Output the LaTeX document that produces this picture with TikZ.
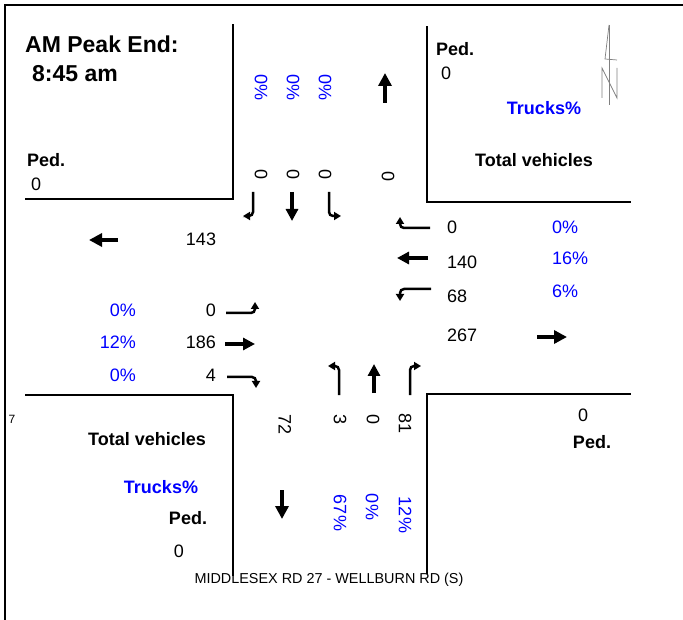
\documentclass[tikz,border=0pt]{standalone}
\usepackage{fontspec}
\setmainfont{Liberation Sans}
\usetikzlibrary{arrows.meta}

\begin{document}
\begin{tikzpicture}[
    x=1pt, y=-1pt,
    curb/.style={line width=2.8pt, line cap=rect},
    frame/.style={line width=2pt},
    num/.style={font=\fontsize{18}{20}\selectfont, inner sep=0pt},
    pct/.style={num, text=blue},
    bold/.style={font=\fontsize{18}{20}\selectfont\bfseries, inner sep=0pt},
    head/.style={font=\fontsize{23}{25}\selectfont\bfseries, inner sep=0pt, anchor=west},
    mov/.style={line width=3.2pt, -{Triangle[length=12pt,width=12pt]}},
    exitarr/.style={line width=3.8pt, -{Triangle[length=13pt,width=13pt]}},
    turn/.style={line width=2.5pt, rounded corners=4pt, -{Triangle[length=7pt,width=8pt]}},
    compass/.style={gray, line width=0.7pt}
  ]
  \useasboundingbox (0,0) rectangle (683,620);
  \draw[frame] (683,5) -- (5,5) -- (5,620);

  \draw[curb] (233,25) -- (233,199) -- (26,199);
  \draw[curb] (427,27) -- (427,202) -- (630,202);
  \draw[curb] (26,395) -- (233,395) -- (233,575);
  \draw[curb] (630,394) -- (427,394) -- (427,573);

  \node[head] (title) at (25,44) {AM Peak End:};
  \node[head] (time) at (32,74) {8:45 am};

  \draw[compass] (609,25) -- (609,105);
  \draw[compass] (609,25) -- (605,59) -- (617,60);
  \draw[compass] (602,98) -- (602,68) -- (617,98) -- (617,68);

  % north leg
  \node[bold, anchor=west] (pedNW) at (27,160) {Ped.};
  \node[num, anchor=west] (pedNWv) at (31,184) {0};
  \node[pct, rotate=-90] (tkNR) at (261,88) {0\%};
  \node[pct, rotate=-90] (tkNT) at (293,88) {0\%};
  \node[pct, rotate=-90] (tkNL) at (325,88) {0\%};
  \node[num, rotate=-90] (vNR) at (261,175) {0};
  \node[num, rotate=-90] (vNT) at (293,175) {0};
  \node[num, rotate=-90] (vNL) at (325,175) {0};
  \node[num, rotate=-90] (vNX) at (388,177) {0};
  \draw[turn] (253,192) -- (253,216) -- (243,216);
  \draw[mov] (292,192) -- (292,221);
  \draw[turn] (329,192) -- (329,216) -- (341,216);
  \draw[exitarr] (385,103) -- (385,73);

  \node[bold, anchor=west] (pedNE) at (436,49) {Ped.};
  \node[num, anchor=west] (pedNEv) at (441,73) {0};
  \node[bold, text=blue] (trkNE) at (544,108) {Trucks\%};
  \node[bold] (totNE) at (534,160) {Total vehicles};

  % west leg
  \draw[exitarr] (118,240) -- (89,240);
  \node[num] (vWX) at (201,239) {143};
  \node[num, anchor=east] (vWL) at (216,310) {0};
  \node[num, anchor=east] (vWT) at (216,342) {186};
  \node[num, anchor=east] (vWR) at (216,375) {4};
  \node[pct, anchor=east] (tkWL) at (136,310) {0\%};
  \node[pct, anchor=east] (tkWT) at (136,342) {12\%};
  \node[pct, anchor=east] (tkWR) at (136,375) {0\%};
  \draw[turn] (226,313) -- (255,313) -- (255,302);
  \draw[mov] (225,344) -- (255,344);
  \draw[turn] (227,377) -- (256,377) -- (256,388);

  % east leg
  \node[num, anchor=west] (vER) at (447,227) {0};
  \node[num, anchor=west] (vET) at (447,262) {140};
  \node[num, anchor=west] (vEL) at (447,296) {68};
  \node[num, anchor=west] (vEX) at (447,335) {267};
  \node[pct, anchor=west] (tkER) at (552,227) {0\%};
  \node[pct, anchor=west] (tkET) at (552,258) {16\%};
  \node[pct, anchor=west] (tkEL) at (552,291) {6\%};
  \draw[turn] (430,228) -- (400,228) -- (400,217);
  \draw[mov] (428,258) -- (397,258);
  \draw[turn] (431,289) -- (400,289) -- (400,301);
  \draw[exitarr] (537,337) -- (567,337);

  % south leg
  \draw[turn] (339,395) -- (339,366) -- (328,366);
  \draw[mov] (374,393) -- (374,364);
  \draw[turn] (410,395) -- (410,366) -- (421,366);
  \node[num, rotate=-90] (vSX) at (285,425) {72};
  \node[num, rotate=-90] (vSL) at (340,420) {3};
  \node[num, rotate=-90] (vST) at (373,420) {0};
  \node[num, rotate=-90] (vSR) at (405,424) {81};
  \node[pct, rotate=-90] (tkSL) at (340,513) {67\%};
  \node[pct, rotate=-90] (tkST) at (372,507) {0\%};
  \node[pct, rotate=-90] (tkSR) at (405,515) {12\%};
  \draw[exitarr] (282,490) -- (282,519);

  \node[font=\fontsize{12}{14}\selectfont, inner sep=0pt] (seven) at (12,419) {7};
  \node[bold] (totSW) at (147,439) {Total vehicles};
  \node[bold, text=blue] (trkSW) at (161,487) {Trucks\%};
  \node[bold] (pedSW) at (188,518) {Ped.};
  \node[num] (pedSWv) at (179,551) {0};

  \node[num] (pedSEv) at (583,415) {0};
  \node[bold] (pedSE) at (592,442) {Ped.};

  \node[font=\fontsize{14.4}{16}\selectfont, inner sep=0pt] (street) at (329,580) {MIDDLESEX RD 27 - WELLBURN RD (S)};
\end{tikzpicture}
\end{document}
